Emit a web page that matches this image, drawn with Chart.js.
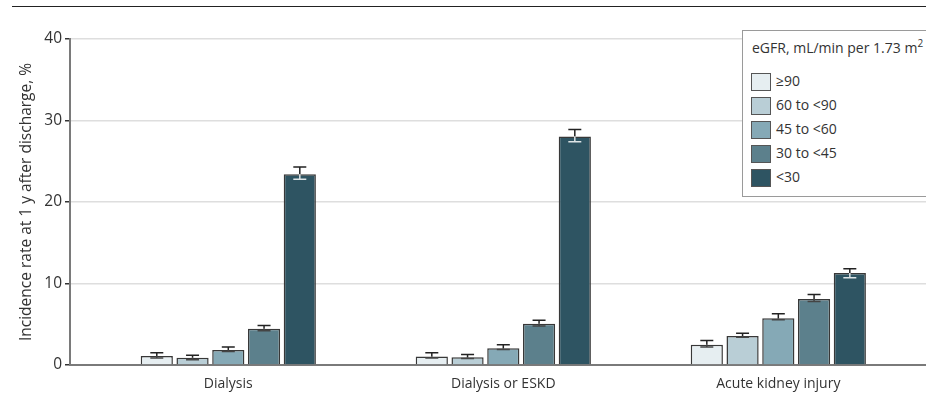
<!DOCTYPE html>
<html>
<head>
<meta charset="utf-8">
<script src="https://cdn.jsdelivr.net/npm/chart.js@4.4.1/dist/chart.umd.min.js"></script>
<style>
   html, body { margin: 0; padding: 0; background: #fff; }
   #wrap { position: relative; width: 926px; height: 410px; overflow: hidden; }
   #legende {
      position: absolute; left: 742px; top: 30px; width: 200px; height: 165px;
      border: 1.5px solid #9a9a9a; border-right: none; background: #fff;
      font-family: "Open Sans", sans-serif; color: #333; font-size: 14px;
   }
   #legende .titre { position: absolute; left: 9px; top: 7px; white-space: nowrap; }
   #legende .titre sup { font-size: 10px; vertical-align: 6px; line-height: 0; }
   #legende .item { position: absolute; left: 8px; height: 18px; white-space: nowrap; }
   #legende .carre { position: absolute; left: 0; top: 0; width: 18px; height: 16px; border: 1px solid #555; }
   #legende .label { position: absolute; left: 25px; top: -1px; line-height: 18px; }
</style>
</head>
<body>
<div id="wrap">
   <canvas id="graphique" width="926" height="410"></canvas>
   <div id="legende"></div>
</div>
<script>
const categories = ['Dialysis', 'Dialysis or ESKD', 'Acute kidney injury'];
const groupes = ['≥90', '60 to <90', '45 to <60', '30 to <45', '<30'];
const couleurs = ['#e6eef1', '#b9ced6', '#85a9b6', '#5c808c', '#2e5462'];

// taux (%) par categorie, un tableau par groupe eGFR
const egfr90 = [1.1, 1.05, 2.5];
const egfr60 = [0.9, 0.95, 3.55];
const egfr45 = [1.85, 2.05, 5.75];
const egfr30 = [4.45, 5.05, 8.1];
const egfr0 = [23.4, 28.05, 11.3];

// intervalles (bas / haut)
const bas90 = [0.85, 0.85, 2.2];
const haut90 = [1.5, 1.5, 3.0];
const bas60 = [0.65, 0.8, 3.4];
const haut60 = [1.2, 1.3, 3.9];
const bas45 = [1.65, 1.9, 5.55];
const haut45 = [2.2, 2.5, 6.3];
const bas30 = [4.2, 4.8, 7.8];
const haut30 = [4.85, 5.5, 8.65];
const bas0 = [22.8, 27.4, 10.7];
const haut0 = [24.3, 28.9, 11.8];

const yTicks = [0, 10, 20, 30, 40];

const valeurs = [egfr90, egfr60, egfr45, egfr30, egfr0];
const basses = [bas90, bas60, bas45, bas30, bas0];
const hautes = [haut90, haut60, haut45, haut30, haut0];

const ctx = document.getElementById('graphique');
const POLICE = '"Open Sans", sans-serif';

// barres d'erreur
const errorBars = {
   id: 'errorBars',
   afterDatasetsDraw(chart) {
      const c = chart.ctx;
      const y = chart.scales.y;
      chart.data.datasets.forEach((ds, i) => {
         const meta = chart.getDatasetMeta(i);
         meta.data.forEach((bar, j) => {
            const yh = y.getPixelForValue(ds.haut[j]);
            const yb = y.getPixelForValue(ds.bas[j]);
            const yt = bar.y;
            const x = bar.x;
            c.save();
            c.lineWidth = 1.5;
            c.strokeStyle = '#222';
            c.beginPath();
            c.moveTo(x, yt); c.lineTo(x, yh);
            c.moveTo(x - 6.5, yh); c.lineTo(x + 6.5, yh);
            c.stroke();
            c.strokeStyle = i == 4 ? '#dde4e6' : '#444';
            c.beginPath();
            c.moveTo(x, yt); c.lineTo(x, yb);
            c.moveTo(x - 6.5, yb); c.lineTo(x + 6.5, yb);
            c.stroke();
            c.restore();
         });
      });
   }
};

// trait du haut
const traitHaut = {
   id: 'traitHaut',
   beforeDraw(chart) {
      const c = chart.ctx;
      c.save();
      c.strokeStyle = '#222';
      c.lineWidth = 1.2;
      c.beginPath();
      c.moveTo(12, 6.5); c.lineTo(926, 6.5);
      c.stroke();
      c.restore();
   }
};

const myChart = new Chart(ctx, {
   type: 'bar',
   data: {
      datasets: groupes.map((g, i) => ({
         label: g,
         data: valeurs[i].map((v, k) => ({ x: k, y: v })),
         bas: basses[i],
         haut: hautes[i],
         backgroundColor: couleurs[i],
         borderColor: '#383838',
         borderWidth: 1.5,
         categoryPercentage: 0.65,
         barPercentage: 0.9
      }))
   },
   options: {
      responsive: false,
      animation: false,
      layout: { padding: { top: 39, right: 0, left: 0, bottom: 0 } },
      scales: {
         x: {
            type: 'linear',
            offset: false,
            min: -0.5756,
            max: 2.537,
            afterFit: scale => { scale.height = 45; },
            grid: { display: false, offset: false },
            border: { display: true, color: '#7a7a7a', width: 2 },
            ticks: {
               stepSize: 1,
               includeBounds: false,
               autoSkip: false,
               maxRotation: 0,
               padding: 3,
               color: '#333',
               font: { family: POLICE, size: 14 },
               callback: v => categories[v] !== undefined ? categories[v] : ''
            }
         },
         y: {
            min: 0,
            max: 40,
            afterFit: scale => { scale.width = 70; },
            afterBuildTicks: scale => { scale.ticks = yTicks.map(v => ({ value: v })); },
            border: { color: '#7a7a7a', width: 2 },
            grid: {
               color: '#dedede',
               lineWidth: 1.5,
               tickColor: '#333',
               tickLength: 5
            },
            ticks: {
               padding: 3,
               color: '#333',
               font: { family: POLICE, size: 15.5 }
            },
            title: {
               display: true,
               text: 'Incidence rate at 1 y after discharge, %',
               color: '#333',
               font: { family: POLICE, size: 15.5 },
               padding: { top: 17, bottom: 0 }
            }
         }
      },
      plugins: {
         legend: { display: false },
         tooltip: { enabled: false }
      }
   },
   plugins: [errorBars, traitHaut]
});

// legende en HTML
const LEGENDE = document.getElementById('legende');
LEGENDE.innerHTML = '<div class="titre">eGFR, mL/min per 1.73 m<sup>2</sup></div>';
for (let i = 0; i < groupes.length; i++) {
   LEGENDE.innerHTML += (`
      <div class="item" style="top:${42 + i * 24}px">
         <div class="carre" style="background:${couleurs[i]}"></div>
         <div class="label">${groupes[i].replace('<', '&lt;')}</div>
      </div>
   `);
}
</script>
</body>
</html>
